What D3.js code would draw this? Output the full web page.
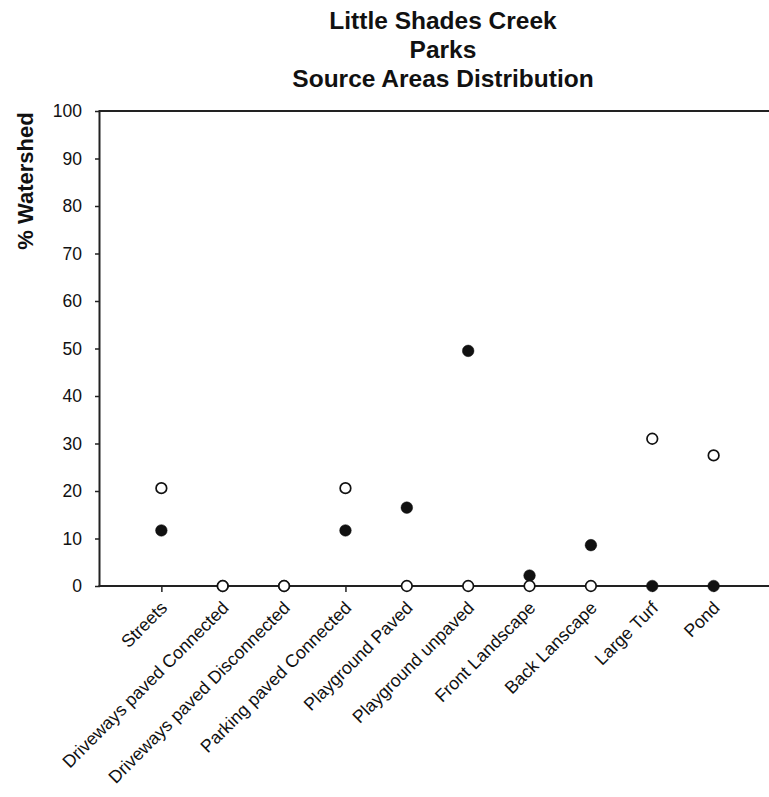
<!DOCTYPE html>
<html>
<head>
<meta charset="utf-8">
<script src="https://cdn.jsdelivr.net/npm/d3@7"></script>
<style>
  body { margin: 0; background: #fff; }
  svg { display: block; font-family: "Liberation Sans", Arial, sans-serif; }
</style>
</head>
<body>
<svg id="chart" width="769" height="797"></svg>
<script>
const categories = [
  "Streets",
  "Driveways paved Connected",
  "Driveways paved Disconnected",
  "Parking paved Connected",
  "Playground Paved",
  "Playground unpaved",
  "Front Landscape",
  "Back Lanscape",
  "Large Turf",
  "Pond"
];
const filledValues = [11.7, 0, 0, 11.7, 16.5, 49.5, 2.2, 8.6, 0, 0];
const openValues = [20.6, 0, 0, 20.6, 0, 0, 0, 0, 31.0, 27.5];
const yTicks = [0, 10, 20, 30, 40, 50, 60, 70, 80, 90, 100];
const titleLines = ["Little Shades Creek", "Parks", "Source Areas Distribution"];
const yLabel = "% Watershed";

const svg = d3.select("#chart");
const mLeft = 100, mRight = 775, mTop = 111, mBottom = 586;
const axisColor = "#222";

const x = d3.scaleLinear().domain([-1, categories.length]).range([mLeft, mRight]);
const y = d3.scaleLinear().domain([0, 100]).range([mBottom, mTop]);

// Title
svg.append("g").selectAll("text").data(titleLines).join("text")
  .attr("x", 443).attr("y", (d, i) => 29 + i * 29)
  .attr("text-anchor", "middle")
  .attr("font-size", 24.5).attr("font-weight", "bold").attr("fill", "#111")
  .text(d => d);

// Y axis
const yAxis = svg.append("g").attr("transform", `translate(${mLeft},0)`)
  .call(d3.axisLeft(y).tickValues(yTicks).tickSize(5).tickPadding(13).tickFormat(d3.format("d")));
yAxis.select(".domain").attr("stroke", axisColor).attr("stroke-width", 2).attr("d", `M-0.5,${mBottom}V${mTop}`);
yAxis.selectAll(".tick line").attr("stroke", axisColor).attr("stroke-width", 1.5);
yAxis.selectAll(".tick text").attr("font-size", 17.5).attr("fill", "#111").attr("font-family", "Liberation Sans, Arial, sans-serif");

// Top border line
svg.append("line").attr("x1", mLeft - 1.5).attr("x2", 769).attr("y1", mTop).attr("y2", mTop)
  .attr("stroke", axisColor).attr("stroke-width", 2);

// X axis
const xAxis = svg.append("g").attr("transform", `translate(0,${mBottom})`)
  .call(d3.axisBottom(x).tickValues(d3.range(categories.length)).tickSize(6)
    .tickFormat(i => categories[i]));
xAxis.select(".domain").attr("stroke", axisColor).attr("stroke-width", 2).attr("d", `M${mLeft - 1.5},0H769`);
xAxis.selectAll(".tick line").attr("stroke", axisColor).attr("stroke-width", 1.5);
xAxis.selectAll(".tick text")
  .attr("font-size", 17.8).attr("fill", "#111").attr("font-family", "Liberation Sans, Arial, sans-serif")
  .attr("text-anchor", "end")
  .attr("transform", "translate(6.5,23) rotate(-45)")
  .attr("y", 0).attr("dy", 0);

// Y label
svg.append("text")
  .attr("transform", "translate(33,181) rotate(-90)")
  .attr("text-anchor", "middle")
  .attr("font-size", 22).attr("font-weight", "bold").attr("fill", "#111")
  .text(yLabel);

// Filled points
svg.append("g").selectAll("circle").data(filledValues).join("circle")
  .attr("cx", (d, i) => x(i)).attr("cy", d => y(d)).attr("r", 5.8)
  .attr("fill", "#111").attr("stroke", "#111").attr("stroke-width", 0.5);

// Open points
svg.append("g").selectAll("circle").data(openValues).join("circle")
  .attr("cx", (d, i) => x(i)).attr("cy", d => y(d)).attr("r", 5.3)
  .attr("fill", "#fff").attr("stroke", "#111").attr("stroke-width", 1.7);
</script>
</body>
</html>
